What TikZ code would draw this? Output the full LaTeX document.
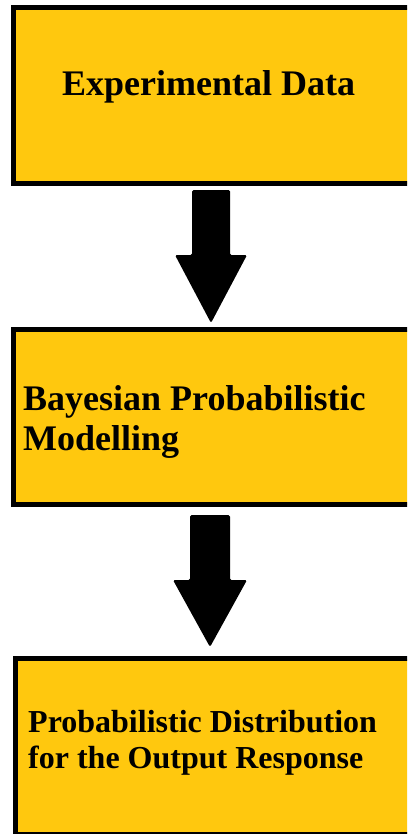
\documentclass[tikz,border=0pt]{standalone}
\usepackage{fontspec}
\setmainfont{Liberation Serif}
\usetikzlibrary{calc}
\definecolor{boxyellow}{RGB}{255,200,14}
\begin{document}
\begin{tikzpicture}[x=1bp,y=-1bp,
  box/.style={fill=boxyellow, inner sep=0pt, outer sep=0pt, anchor=north west, minimum width=420bp},
  edge/.style={draw=black, line width=5bp, line join=miter},
  lbl/.style={font=\bfseries\fontsize{36bp}{40bp}\selectfont, inner sep=0pt, anchor=base west, align=left},
  fatarrow/.style={fill=black, rounded corners=1.5bp}]
\useasboundingbox (0,0) rectangle (407,834);
\clip (0,0) rectangle (407,834);
\node[box, minimum height=176bp] (b1) at (13.5,7.5) {};
\node[box, minimum height=175bp] (b2) at (13.5,329.5) {};
\node[box, minimum height=176bp] (b3) at (15.5,658.5) {};
\draw[edge] (b1.north east) -- (b1.north west) -- (b1.south west) -- (b1.south east);
\draw[edge] (b2.north east) -- (b2.north west) -- (b2.south west) -- (b2.south east);
\draw[edge] (b3.north east) -- (b3.north west) -- (b3.south west) -- (b3.south east);
\coordinate (a1s) at (211,190);
\coordinate (a1e) at (211,323);
\coordinate (a2s) at (210,515);
\coordinate (a2e) at (210,647);
\fill[fatarrow] ($(a1s)+(-19,0)$) -- ($(a1s)+(19,0)$) -- ($(a1s)+(19,65)$) -- ($(a1s)+(36,65)$) -- (a1e) -- ($(a1s)+(-36,65)$) -- ($(a1s)+(-19,65)$) -- cycle;
\fill[fatarrow] ($(a2s)+(-20,0)$) -- ($(a2s)+(20,0)$) -- ($(a2s)+(20,65)$) -- ($(a2s)+(37,65)$) -- (a2e) -- ($(a2s)+(-37,65)$) -- ($(a2s)+(-20,65)$) -- cycle;
\node[lbl] (t1) at (62,95) {Experimental Data};
\node[lbl] (t2) at (23,450) {Bayesian Probabilistic\\Modelling};
\node[lbl, font=\bfseries\fontsize{32bp}{36bp}\selectfont] (t3) at (28,768) {Probabilistic Distribution\\for the Output Response};
\end{tikzpicture}
\end{document}
